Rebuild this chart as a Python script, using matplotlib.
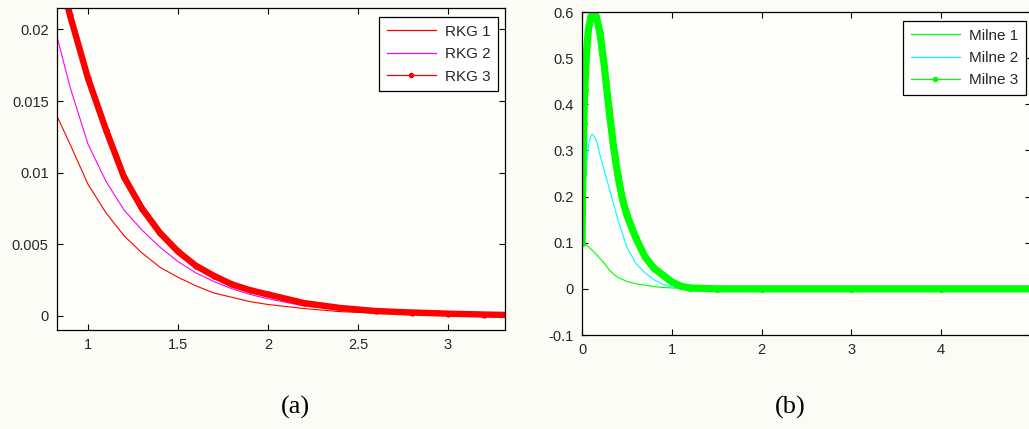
import numpy as np
import matplotlib
matplotlib.use('Agg')
import matplotlib.pyplot as plt
from matplotlib.lines import Line2D

# ---- data ----
# (a) RKG curves
rkg_x = [0.83, 0.9, 1.0, 1.1, 1.2, 1.3, 1.4, 1.5, 1.6, 1.7, 1.8, 1.9, 2.0,
         2.2, 2.4, 2.6, 2.8, 3.0, 3.2, 3.32]
rkg1 = [0.0139, 0.0120, 0.0092, 0.0072, 0.0056, 0.0044, 0.0034, 0.0027, 0.0021,
        0.0016, 0.0013, 0.0010, 0.0008, 0.00052, 0.0003, 0.0002, 0.00013,
        0.00009, 0.00006, 0.00005]
rkg2 = [0.0194, 0.0160, 0.0120, 0.0094, 0.0074, 0.0060, 0.0048, 0.0038, 0.0030,
        0.0024, 0.0019, 0.0015, 0.0012, 0.0007, 0.00045, 0.0003, 0.0002,
        0.00013, 0.00009, 0.00007]
rkg3_x = [0.87, 0.9, 1.0, 1.1, 1.2, 1.3, 1.4, 1.5, 1.6, 1.7, 1.8, 1.9, 2.0,
          2.2, 2.4, 2.6, 2.8, 3.0, 3.2, 3.32]
rkg3 = [0.0225, 0.0210, 0.0166, 0.0130, 0.0097, 0.0075, 0.0058, 0.0045, 0.0035,
        0.0028, 0.0022, 0.0018, 0.0015, 0.0009, 0.00056, 0.00034, 0.00024,
        0.00016, 0.0001, 0.00007]

# (b) Milne curves
milne1_x = [0, 0.05, 0.1, 0.15, 0.2, 0.25, 0.3, 0.35, 0.4, 0.5, 0.6, 0.7, 0.8,
            0.9, 1.0, 1.2, 1.5, 2, 3, 4, 5]
milne1 = [0.10, 0.095, 0.086, 0.077, 0.066, 0.055, 0.042, 0.032, 0.025, 0.016,
          0.011, 0.008, 0.005, 0.003, 0.002, 0.0005, 0, 0, 0, 0, 0]
milne2_x = [0, 0.02, 0.04, 0.06, 0.08, 0.11, 0.14, 0.17, 0.2, 0.25, 0.3, 0.35,
            0.4, 0.5, 0.6, 0.7, 0.8, 0.9, 1.0, 1.1, 1.2, 2, 3, 4, 5]
milne2 = [0.10, 0.17, 0.24, 0.29, 0.32, 0.335, 0.33, 0.315, 0.29, 0.255, 0.22,
          0.185, 0.15, 0.09, 0.055, 0.035, 0.02, 0.01, 0.004, 0.001, 0, 0, 0, 0, 0]
milne3_x = [0, 0.005, 0.01, 0.02, 0.03, 0.05, 0.07, 0.1, 0.13, 0.16, 0.2, 0.25,
            0.3, 0.35, 0.4, 0.45, 0.5, 0.6, 0.7, 0.8, 0.9, 1.0, 1.1, 1.2, 1.5,
            2, 3, 4, 5]
milne3 = [0.10, 0.18, 0.25, 0.36, 0.43, 0.51, 0.56, 0.59, 0.60, 0.59, 0.555,
          0.48, 0.39, 0.31, 0.245, 0.195, 0.16, 0.11, 0.07, 0.045, 0.03, 0.015,
          0.006, 0.002, 0, 0, 0, 0, 0]

bg = '#fcfcf6'
txt = '#262626'
plt.rcParams['font.family'] = ['Liberation Sans', 'DejaVu Sans']

fig = plt.figure(figsize=(10.29, 4.29), dpi=100, facecolor=bg)
ax1 = fig.add_axes([0.0554, 0.2308, 0.4354, 0.7506])
ax2 = fig.add_axes([0.5656, 0.2191, 0.4363, 0.7529])

# left panel
ax1.plot(rkg_x, rkg1, color='#ff0000', lw=0.8)
ax1.plot(rkg_x, rkg2, color='#ff00ff', lw=0.8)
ax1.plot(rkg3_x, rkg3, color='#ff0000', lw=4.6, marker='.', ms=7,
         solid_capstyle='round', solid_joinstyle='round')
ax1.set_xlim(0.828, 3.317)
ax1.set_ylim(-0.00098, 0.0215)
ax1.set_xticks([1, 1.5, 2, 2.5, 3])
ax1.set_xticklabels(['1', '1.5', '2', '2.5', '3'])
ax1.set_yticks([0, 0.005, 0.01, 0.015, 0.02])
ax1.set_yticklabels(['0', '0.005', '0.01', '0.015', '0.02'])

# right panel
ax2.plot(milne1_x, milne1, color='#00ff00', lw=0.8)
ax2.plot(milne2_x, milne2, color='#00ffff', lw=0.8)
ax2.plot(milne3_x, milne3, color='#00ff00', lw=5.2, marker='.', ms=8,
         solid_joinstyle='round')
ax2.set_xlim(0, 5)
ax2.set_ylim(-0.1, 0.6)
ax2.set_xticks([0, 1, 2, 3, 4])
ax2.set_yticks([-0.1, 0, 0.1, 0.2, 0.3, 0.4, 0.5, 0.6])
ax2.set_yticklabels(['-0.1', '0', '0.1', '0.2', '0.3', '0.4', '0.5', '0.6'])

for ax in (ax1, ax2):
    ax.set_facecolor('#fefefb')
    for s in ax.spines.values():
        s.set_linewidth(0.9)
        s.set_color('black')
    ax.tick_params(direction='in', top=True, right=True, length=4, width=0.8,
                   labelsize=10.5, labelcolor=txt, pad=6)

lk = dict(fontsize=11, frameon=True, fancybox=False, edgecolor='black',
          framealpha=1, handlelength=3.2, handletextpad=0.6, borderpad=0.5,
          labelspacing=0.55, borderaxespad=0, loc='upper right',
          bbox_transform=fig.transFigure)
h1 = [Line2D([], [], color='#ff0000', lw=0.9),
      Line2D([], [], color='#ff00ff', lw=0.9),
      Line2D([], [], color='#ff0000', lw=0.9, marker='.', ms=6)]
leg1 = ax1.legend(h1, ['RKG 1', 'RKG 2', 'RKG 3'], bbox_to_anchor=(0.484, 0.960), **lk)
leg1.get_frame().set_linewidth(0.9)
h2 = [Line2D([], [], color='#00ff00', lw=0.9),
      Line2D([], [], color='#00ffff', lw=0.9),
      Line2D([], [], color='#00ff00', lw=0.9, marker='.', ms=6)]
leg2 = ax2.legend(h2, ['Milne 1', 'Milne 2', 'Milne 3'], bbox_to_anchor=(0.997, 0.951), **lk)
leg2.get_frame().set_linewidth(0.9)
for leg in (leg1, leg2):
    for t in leg.get_texts():
        t.set_color(txt)

fig.text(295/1029, 1-407/429, '(a)', family='Liberation Serif', fontsize=19,
         ha='center', va='center')
fig.text(790/1029, 1-407/429, '(b)', family='Liberation Serif', fontsize=19,
         ha='center', va='center')

fig.savefig('out.png', dpi=100, facecolor=bg)
